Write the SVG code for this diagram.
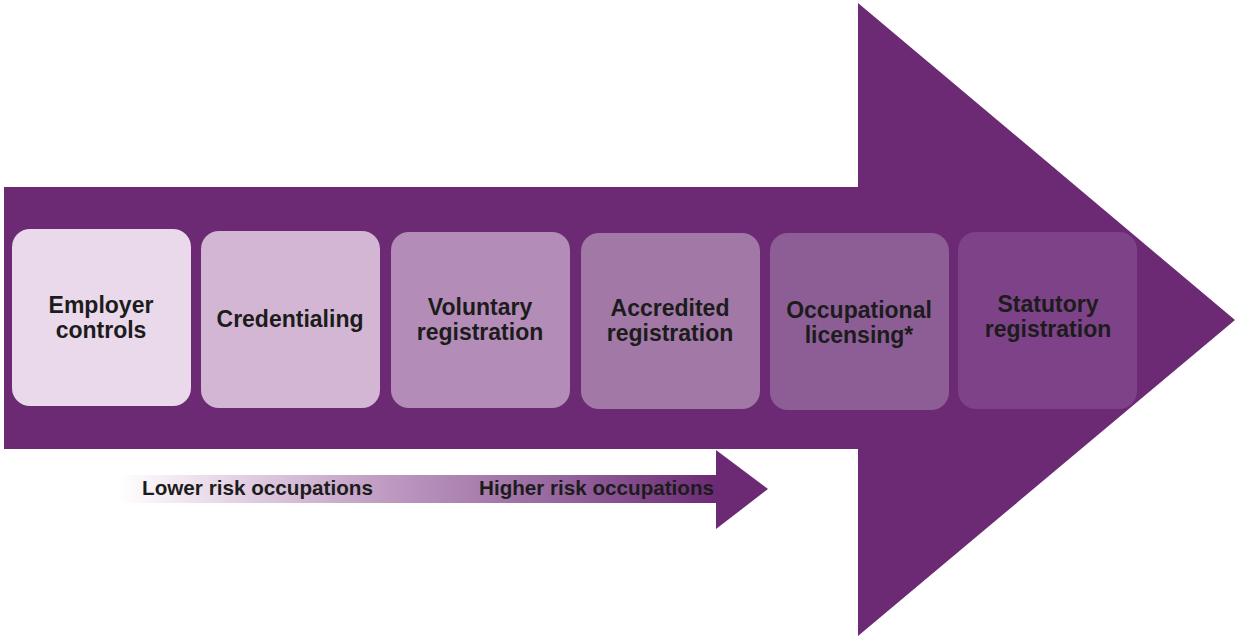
<svg xmlns="http://www.w3.org/2000/svg" width="1235" height="637" viewBox="0 0 1235 637">
<defs>
<style>
.lbl{font-family:"Liberation Sans",Arial,sans-serif;font-weight:bold;font-size:23px;fill:#1c1c1c;text-anchor:middle}
.sm{font-family:"Liberation Sans",Arial,sans-serif;font-weight:bold;font-size:21px;fill:#1c1c1c}
</style>
<linearGradient id="g" x1="118" y1="0" x2="716" y2="0" gradientUnits="userSpaceOnUse">
<stop offset="0" stop-color="#ffffff"/>
<stop offset="0.12" stop-color="#efe3ef"/>
<stop offset="0.45" stop-color="#be9ac1"/>
<stop offset="0.75" stop-color="#94649c"/>
<stop offset="1" stop-color="#6c2a74"/>
</linearGradient>
</defs>
<rect width="1235" height="637" fill="#ffffff"/>
<g id="big-arrow">
<polygon points="4,187 858,187 858,3 1235,320 858,636 858,449 4,449" fill="#6c2a74"/>
</g>
<g id="n1"><rect x="12" y="229" width="179" height="177" rx="18" fill="#e9d9ea"/>
<text class="lbl" x="101" y="313">Employer</text><text class="lbl" x="101" y="338">controls</text></g>
<g id="n2"><rect x="201" y="231" width="179" height="177" rx="18" fill="#d3b6d4"/>
<text class="lbl" x="290" y="327">Credentialing</text></g>
<g id="n3"><rect x="391" y="232" width="179" height="176" rx="18" fill="#b48cb8"/>
<text class="lbl" x="480" y="315">Voluntary</text><text class="lbl" x="480" y="340">registration</text></g>
<g id="n4"><rect x="581" y="233" width="179" height="176" rx="18" fill="#a278a7"/>
<text class="lbl" x="670" y="316">Accredited</text><text class="lbl" x="670" y="341">registration</text></g>
<g id="n5"><rect x="770" y="233" width="179" height="177" rx="18" fill="#8d5e96"/>
<text class="lbl" x="859" y="318">Occupational</text><text class="lbl" x="859" y="343">licensing*</text></g>
<g id="n6"><rect x="958" y="232" width="179" height="177" rx="18" fill="#7e4288"/>
<text class="lbl" x="1048" y="312">Statutory</text><text class="lbl" x="1048" y="337">registration</text></g>
<g id="risk-arrow">
<rect x="118" y="475" width="600" height="28" fill="url(#g)"/>
<polygon points="716,450 768,489 716,529" fill="#6c2a74"/>
<text class="sm" x="142" y="495" textLength="231" lengthAdjust="spacingAndGlyphs">Lower risk occupations</text>
<text class="sm" x="479" y="495" textLength="235" lengthAdjust="spacingAndGlyphs">Higher risk occupations</text>
</g>
</svg>
